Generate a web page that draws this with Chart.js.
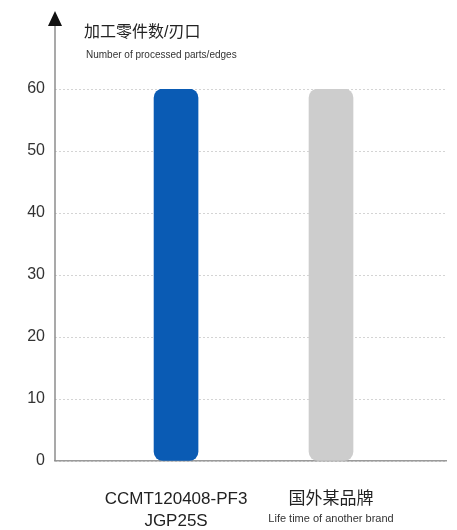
<!DOCTYPE html>
<html>
<head>
<meta charset="utf-8">
<script src="https://cdn.jsdelivr.net/npm/chart.js@4.4.1/dist/chart.umd.min.js"></script>
<style>
  html, body { margin: 0; padding: 0; background: #fff; }
  #wrap { width: 457px; height: 530px; position: relative; }
</style>
</head>
<body>
<div id="wrap"><canvas id="chart" width="457" height="530"></canvas></div>
<script>
// donnees du graphique
const categories = [['CCMT120408-PF3', 'JGP25S'], ['国外某品牌']];
const subLabels = ['', 'Life time of another brand'];
const partsPerEdge = [60, 60];
const barColors = ['#0a5bb4', '#cdcdcd'];
const yTicks = [0, 10, 20, 30, 40, 50, 60];

const latin = '"Liberation Sans", Arial, sans-serif';
const cjk = '"Liberation Sans", "Noto Sans CJK SC", sans-serif';

// titre, fleche de l'axe Y et sous-titres des categories
const decorPlugin = {
    id: 'decor',
    afterDraw(chart) {
        const ctx = chart.ctx;
        const area = chart.chartArea;
        const xs = chart.scales.x;
        ctx.save();

        // axe Y avec fleche
        ctx.strokeStyle = '#8c8c8c';
        ctx.lineWidth = 1.5;
        ctx.beginPath();
        ctx.moveTo(area.left, area.bottom);
        ctx.lineTo(area.left, 22);
        ctx.stroke();
        ctx.fillStyle = '#111';
        ctx.beginPath();
        ctx.moveTo(area.left, 11);
        ctx.lineTo(area.left - 7, 26);
        ctx.lineTo(area.left + 7, 26);
        ctx.closePath();
        ctx.fill();

        // titre
        ctx.fillStyle = '#222';
        ctx.textAlign = 'left';
        ctx.textBaseline = 'middle';
        ctx.font = '16px ' + cjk;
        ctx.fillText('加工零件数/刃口', 84, 33);
        ctx.font = '10px ' + latin;
        ctx.fillStyle = '#333';
        ctx.fillText('Number of processed parts/edges', 86, 55);

        // sous-titres
        ctx.textAlign = 'center';
        ctx.font = '11px ' + latin;
        subLabels.forEach((t, i) => {
            if (t) ctx.fillText(t, xs.getPixelForValue(i), 519);
        });
        ctx.restore();
    }
};

new Chart(document.getElementById('chart'), {
    type: 'bar',
    data: {
        datasets: [{
            data: partsPerEdge.map((v, i) => ({ x: i, y: v })),
            backgroundColor: barColors,
            barThickness: 44,
            borderRadius: 9,
            borderSkipped: false
        }]
    },
    options: {
        responsive: false,
        animation: false,
        layout: { padding: { top: 89, right: 11, left: 0, bottom: 0 } },
        plugins: {
            legend: { display: false },
            tooltip: { enabled: false }
        },
        scales: {
            x: {
                type: 'linear',
                offset: false,
                min: -0.781,
                max: 1.742,
                afterBuildTicks(scale) {
                    scale.ticks = categories.map((c, i) => ({ value: i }));
                },
                afterFit(scale) { scale.height = 69; },
                grid: { display: false, offset: false },
                border: { display: true, color: '#9a9a9a', width: 1.5 },
                ticks: {
                    padding: 19,
                    color: '#222',
                    autoSkip: false,
                    maxRotation: 0,
                    font: { size: 17, family: cjk, lineHeight: 1.3 },
                    callback: (v) => categories[v]
                }
            },
            y: {
                min: 0,
                max: 60,
                afterBuildTicks(scale) {
                    scale.ticks = yTicks.map(v => ({ value: v }));
                },
                afterFit(scale) { scale.width = 55; },
                grid: { color: '#d4d4d4', lineWidth: 1, drawTicks: false },
                border: { display: false, dash: [2, 2] },
                ticks: {
                    padding: 10,
                    color: '#333',
                    font: { size: 16, family: latin }
                }
            }
        }
    },
    plugins: [decorPlugin]
});
</script>
</body>
</html>
